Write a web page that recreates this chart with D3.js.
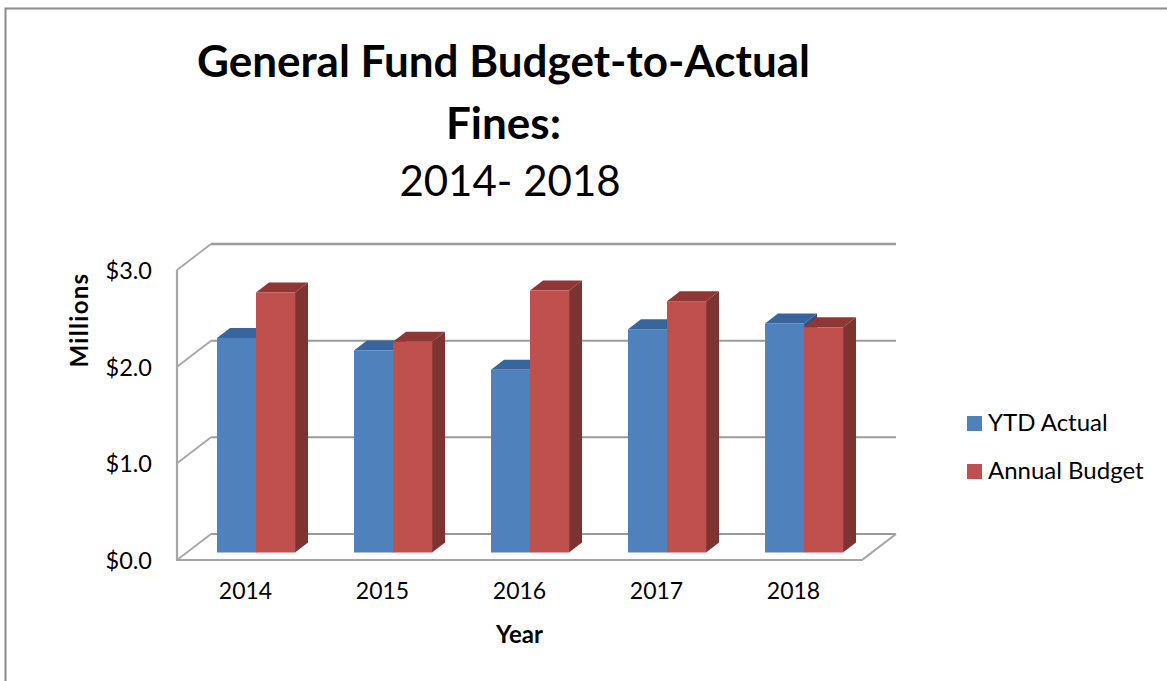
<!DOCTYPE html>
<html><head><meta charset="utf-8">
<script src="https://cdn.jsdelivr.net/npm/d3@7"></script>
<style>
html,body{margin:0;padding:0;background:#fff}
svg{display:block}
text{font-family:Lato,"Open Sans",sans-serif;fill:#000}
</style></head><body>
<svg id="c" width="1167" height="681"></svg>
<script>
const years = ["2014","2015","2016","2017","2018"];
const ytdActual = [2.22,2.09,1.89,2.31,2.37];
const annualBudget = [2.69,2.18,2.71,2.60,2.33];
const seriesNames = ["YTD Actual","Annual Budget"];
const yTicks = [0,1,2,3];

const svg = d3.select("#c");
const M = {x0:177,x1:862,yBottom:560,yTop:270,dx:34,dy:-26,barBase:552.5,barDx:13,barDy:-10};
const colors = [{f:"#4f81bd",t:"#38659b",s:"#2f5587"},{f:"#c0504d",t:"#8f3735",s:"#7f3331"}];

svg.append("path").attr("d","M5.5,681V8.5H1167").attr("fill","none").attr("stroke","#8c8c8c").attr("stroke-width",2);

const x = d3.scaleBand().domain(years).range([M.x0,M.x1]);
const y = d3.scaleLinear().domain([0,3]).range([M.yBottom,M.yTop]);
const barY = d3.scaleLinear().domain([0,3]).range([M.barBase,M.barBase-290]);
const inner = d3.scaleBand().domain([0,1]).range([40,118]);

const grid = svg.append("g").attr("fill","none").attr("stroke","#9a9a9a");
yTicks.forEach(t=>{
  grid.append("line").attr("x1",M.x0+M.dx).attr("x2",M.x1+M.dx)
    .attr("y1",y(t)+M.dy).attr("y2",y(t)+M.dy).attr("stroke-width",t===3?2.5:2);
  grid.append("line").attr("x1",M.x0).attr("x2",M.x0+M.dx)
    .attr("y1",y(t)).attr("y2",y(t)+M.dy).attr("stroke","#a6a6a6").attr("stroke-width",1.8);
});
grid.append("path").attr("stroke","#a6a6a6").attr("stroke-width",2.2)
  .attr("d",`M${M.x0},${y(3)}V${y(0)}H${M.x1}L${M.x1+M.dx},${y(0)+M.dy}`);

const groups = svg.append("g").selectAll("g").data(years).join("g");
[ytdActual,annualBudget].forEach((vals,s)=>{
  const c = colors[s];
  const g = groups.append("g");
  const bx = d=>x(d)+inner(s), w = inner.bandwidth();
  const v = d=>vals[years.indexOf(d)];
  g.append("path").attr("fill",c.t).attr("d",d=>{
    const X=bx(d),Y=barY(v(d));
    return `M${X},${Y}l${M.barDx},${M.barDy}h${w}l${-M.barDx},${-M.barDy}z`;});
  g.append("path").attr("fill",c.s).attr("d",d=>{
    const X=bx(d)+w,Y=barY(v(d));
    return `M${X},${Y}l${M.barDx},${M.barDy}V${M.barBase+M.barDy}l${-M.barDx},${-M.barDy}z`;});
  g.append("rect").attr("fill",c.f).attr("x",bx).attr("width",w+0.3)
    .attr("y",d=>barY(v(d))).attr("height",d=>M.barBase-barY(v(d)));
});

const axY = svg.append("g").attr("transform",`translate(${M.x0-25},1)`)
  .call(d3.axisLeft(y).tickValues(yTicks).tickSize(0).tickPadding(0).tickFormat(d=>"$"+d3.format(".1f")(d)));
axY.select(".domain").remove();
axY.selectAll("text").style("font-size","23.5px").style("font-family","Lato");
const axX = svg.append("g").attr("transform","translate(0,583)")
  .call(d3.axisBottom(x).tickSize(0).tickPadding(0));
axX.select(".domain").remove();
axX.selectAll("text").style("font-size","23px").style("font-family","Lato");

svg.append("text").attr("transform","translate(88,320) rotate(-90)").attr("text-anchor","middle")
  .attr("font-size",24).attr("letter-spacing",1.3).attr("font-weight",700).text("Millions");
svg.append("text").attr("x",519.5).attr("y",643).attr("text-anchor","middle")
  .attr("font-size",24).attr("font-weight",700).text("Year");

const titleLines = [["General Fund Budget-to-Actual",700,77,503.5,44],["Fines:",700,139,503.5,44],["2014- 2018",400,196,510,42]];
svg.append("g").selectAll("text").data(titleLines).join("text")
  .attr("x",d=>d[3]).attr("y",d=>d[2])
  .attr("text-anchor","middle").attr("font-size",d=>d[4]).attr("font-weight",d=>d[1]).text(d=>d[0]);

const leg = svg.append("g").selectAll("g").data(seriesNames).join("g")
  .attr("transform",(d,i)=>`translate(967,${416+i*48})`);
leg.append("rect").attr("width",15).attr("height",15).attr("fill",(d,i)=>colors[i].f);
leg.append("text").attr("x",21).attr("y",15).attr("font-size",24).text(d=>d);
</script>
</body></html>
